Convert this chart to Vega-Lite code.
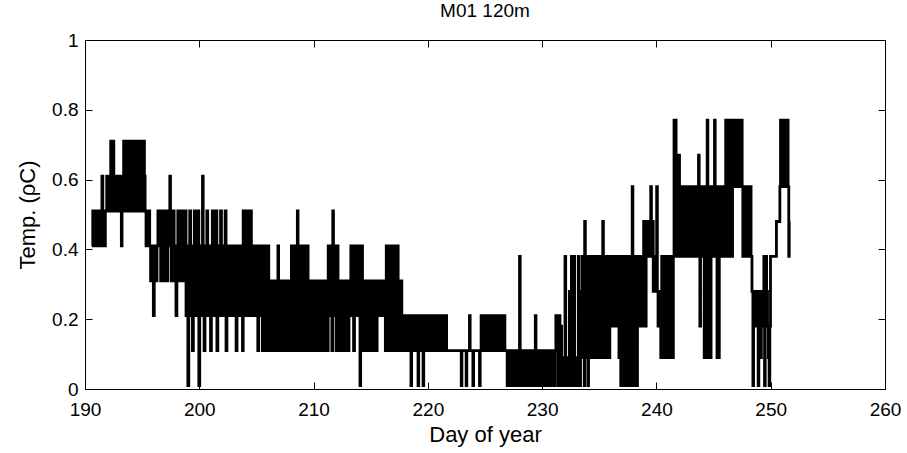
{
"$schema": "https://vega.github.io/schema/vega-lite/v6.json",
"autosize": {"type": "none"},
"padding": {"left": 85, "top": 40, "right": 22, "bottom": 64},
"width": 800,
"height": 349,
"background": "white",
"title": {"text": "M01 120m", "font": "Liberation Sans", "fontSize": 19, "fontWeight": "normal", "color": "black", "offset": 10, "anchor": "middle"},
"config": {
  "view": {"stroke": "black", "strokeWidth": 1},
  "axis": {"grid": false, "domainColor": "black", "tickColor": "black", "labelColor": "black", "titleColor": "black", "labelFont": "Liberation Sans", "titleFont": "Liberation Sans", "labelFontSize": 19, "titleFontSize": 22, "titleFontWeight": "normal", "tickSize": -7, "tickWidth": 1, "domainWidth": 1, "labelOverlap": false, "labelFlush": false}
},
"datasets": {"temp": [
{"d":190.60,"t":0.41},{"d":190.68,"t":0.51},{"d":190.76,"t":0.41},{"d":190.84,"t":0.51},{"d":190.92,"t":0.41},{"d":191.00,"t":0.51},{"d":191.08,"t":0.41},{"d":191.16,"t":0.51},{"d":191.24,"t":0.41},{"d":191.32,"t":0.51},{"d":191.40,"t":0.41},{"d":191.48,"t":0.61},{"d":191.56,"t":0.51},{"d":191.72,"t":0.41},{"d":191.78,"t":0.51},{"d":191.90,"t":0.61},
{"d":192.00,"t":0.51},{"d":192.10,"t":0.61},{"d":192.20,"t":0.51},{"d":192.25,"t":0.71},{"d":192.32,"t":0.61},{"d":192.40,"t":0.51},{"d":192.45,"t":0.71},{"d":192.52,"t":0.51},{"d":192.60,"t":0.61},{"d":192.70,"t":0.51},{"d":192.80,"t":0.61},{"d":192.90,"t":0.51},{"d":193.00,"t":0.61},{"d":193.10,"t":0.51},{"d":193.18,"t":0.41},{"d":193.24,"t":0.51},{"d":193.30,"t":0.61},{"d":193.38,"t":0.71},{"d":193.45,"t":0.51},{"d":193.52,"t":0.61},{"d":193.60,"t":0.51},{"d":193.68,"t":0.71},{"d":193.76,"t":0.61},{"d":193.84,"t":0.51},{"d":193.92,"t":0.71},
{"d":194.00,"t":0.61},{"d":194.08,"t":0.51},{"d":194.16,"t":0.61},{"d":194.24,"t":0.71},{"d":194.32,"t":0.51},{"d":194.40,"t":0.61},{"d":194.48,"t":0.71},{"d":194.56,"t":0.51},{"d":194.64,"t":0.61},{"d":194.72,"t":0.51},{"d":194.80,"t":0.71},{"d":194.88,"t":0.61},{"d":194.96,"t":0.71},{"d":195.04,"t":0.51},{"d":195.12,"t":0.71},{"d":195.20,"t":0.61},{"d":195.26,"t":0.51},{"d":195.34,"t":0.41},{"d":195.42,"t":0.51},{"d":195.50,"t":0.41},{"d":195.58,"t":0.51},{"d":195.66,"t":0.41},{"d":195.74,"t":0.31},{"d":195.82,"t":0.41},{"d":195.90,"t":0.31},{"d":195.98,"t":0.21},
{"d":196.06,"t":0.31},{"d":196.14,"t":0.41},{"d":196.22,"t":0.31},{"d":196.30,"t":0.41},{"d":196.38,"t":0.51},{"d":196.46,"t":0.41},{"d":196.54,"t":0.51},{"d":196.62,"t":0.31},{"d":196.70,"t":0.51},{"d":196.78,"t":0.41},{"d":196.86,"t":0.51},{"d":196.94,"t":0.31},{"d":197.02,"t":0.41},{"d":197.10,"t":0.51},{"d":197.18,"t":0.31},{"d":197.26,"t":0.41},{"d":197.34,"t":0.51},{"d":197.42,"t":0.61},{"d":197.48,"t":0.41},{"d":197.56,"t":0.31},{"d":197.64,"t":0.41},{"d":197.72,"t":0.51},{"d":197.80,"t":0.31},{"d":197.88,"t":0.41},{"d":197.96,"t":0.21},
{"d":198.04,"t":0.41},{"d":198.12,"t":0.51},{"d":198.20,"t":0.31},{"d":198.28,"t":0.41},{"d":198.36,"t":0.51},{"d":198.44,"t":0.31},{"d":198.52,"t":0.41},{"d":198.60,"t":0.51},{"d":198.68,"t":0.31},{"d":198.76,"t":0.51},{"d":198.84,"t":0.21},{"d":198.92,"t":0.41},{"d":199.00,"t":0.01},{"d":199.08,"t":0.31},{"d":199.16,"t":0.51},{"d":199.24,"t":0.21},{"d":199.32,"t":0.41},{"d":199.40,"t":0.11},{"d":199.48,"t":0.31},{"d":199.56,"t":0.51},{"d":199.64,"t":0.21},{"d":199.72,"t":0.41},{"d":199.80,"t":0.31},{"d":199.88,"t":0.51},{"d":199.96,"t":0.01},
{"d":200.04,"t":0.21},{"d":200.12,"t":0.41},{"d":200.20,"t":0.31},{"d":200.28,"t":0.61},{"d":200.34,"t":0.21},{"d":200.42,"t":0.11},{"d":200.50,"t":0.41},{"d":200.58,"t":0.21},{"d":200.66,"t":0.51},{"d":200.74,"t":0.31},{"d":200.82,"t":0.21},{"d":200.90,"t":0.41},{"d":200.98,"t":0.11},{"d":201.06,"t":0.31},{"d":201.14,"t":0.51},{"d":201.22,"t":0.21},{"d":201.30,"t":0.41},{"d":201.38,"t":0.31},{"d":201.46,"t":0.51},{"d":201.54,"t":0.11},{"d":201.62,"t":0.31},{"d":201.70,"t":0.41},{"d":201.78,"t":0.21},{"d":201.86,"t":0.51},{"d":201.94,"t":0.31},
{"d":202.02,"t":0.21},{"d":202.10,"t":0.41},{"d":202.18,"t":0.31},{"d":202.26,"t":0.51},{"d":202.34,"t":0.11},{"d":202.42,"t":0.21},{"d":202.50,"t":0.41},{"d":202.58,"t":0.31},{"d":202.66,"t":0.21},{"d":202.74,"t":0.41},{"d":202.82,"t":0.31},{"d":202.90,"t":0.21},{"d":202.98,"t":0.41},{"d":203.06,"t":0.31},{"d":203.14,"t":0.21},{"d":203.22,"t":0.11},{"d":203.30,"t":0.41},{"d":203.38,"t":0.21},{"d":203.46,"t":0.31},{"d":203.54,"t":0.41},{"d":203.62,"t":0.21},{"d":203.70,"t":0.41},{"d":203.78,"t":0.11},{"d":203.84,"t":0.51},{"d":203.92,"t":0.31},
{"d":204.00,"t":0.51},{"d":204.08,"t":0.21},{"d":204.16,"t":0.41},{"d":204.24,"t":0.31},{"d":204.32,"t":0.51},{"d":204.40,"t":0.21},{"d":204.48,"t":0.51},{"d":204.56,"t":0.31},{"d":204.64,"t":0.41},{"d":204.72,"t":0.21},{"d":204.80,"t":0.41},{"d":204.88,"t":0.31},{"d":204.96,"t":0.21},{"d":205.04,"t":0.41},{"d":205.12,"t":0.11},{"d":205.20,"t":0.41},{"d":205.28,"t":0.21},{"d":205.36,"t":0.31},{"d":205.44,"t":0.41},{"d":205.52,"t":0.11},{"d":205.60,"t":0.31},{"d":205.68,"t":0.21},{"d":205.76,"t":0.41},{"d":205.84,"t":0.11},{"d":205.92,"t":0.31},
{"d":206.00,"t":0.41},{"d":206.08,"t":0.11},{"d":206.16,"t":0.21},{"d":206.24,"t":0.31},{"d":206.32,"t":0.11},{"d":206.40,"t":0.31},{"d":206.48,"t":0.21},{"d":206.56,"t":0.11},{"d":206.64,"t":0.31},{"d":206.72,"t":0.11},{"d":206.80,"t":0.21},{"d":206.88,"t":0.41},{"d":206.94,"t":0.11},{"d":207.02,"t":0.31},{"d":207.10,"t":0.21},{"d":207.18,"t":0.11},{"d":207.26,"t":0.31},{"d":207.34,"t":0.11},{"d":207.42,"t":0.21},{"d":207.50,"t":0.31},{"d":207.58,"t":0.11},{"d":207.66,"t":0.21},{"d":207.74,"t":0.31},{"d":207.82,"t":0.11},{"d":207.90,"t":0.31},{"d":207.98,"t":0.21},
{"d":208.06,"t":0.41},{"d":208.12,"t":0.11},{"d":208.20,"t":0.31},{"d":208.28,"t":0.41},{"d":208.36,"t":0.11},{"d":208.44,"t":0.31},{"d":208.52,"t":0.21},{"d":208.58,"t":0.51},{"d":208.64,"t":0.11},{"d":208.72,"t":0.41},{"d":208.80,"t":0.21},{"d":208.88,"t":0.11},{"d":208.96,"t":0.41},{"d":209.04,"t":0.31},{"d":209.12,"t":0.11},{"d":209.20,"t":0.41},{"d":209.28,"t":0.21},{"d":209.36,"t":0.11},{"d":209.44,"t":0.41},{"d":209.52,"t":0.31},{"d":209.60,"t":0.11},{"d":209.68,"t":0.21},{"d":209.76,"t":0.31},{"d":209.84,"t":0.11},{"d":209.92,"t":0.31},
{"d":210.00,"t":0.21},{"d":210.08,"t":0.11},{"d":210.16,"t":0.31},{"d":210.24,"t":0.11},{"d":210.32,"t":0.21},{"d":210.40,"t":0.31},{"d":210.48,"t":0.11},{"d":210.56,"t":0.21},{"d":210.64,"t":0.31},{"d":210.72,"t":0.11},{"d":210.80,"t":0.31},{"d":210.88,"t":0.21},{"d":210.96,"t":0.11},{"d":211.04,"t":0.31},{"d":211.12,"t":0.21},{"d":211.20,"t":0.11},{"d":211.28,"t":0.41},{"d":211.36,"t":0.21},{"d":211.44,"t":0.31},{"d":211.52,"t":0.41},{"d":211.60,"t":0.11},{"d":211.68,"t":0.51},{"d":211.74,"t":0.21},{"d":211.82,"t":0.41},{"d":211.90,"t":0.31},{"d":211.98,"t":0.11},
{"d":212.06,"t":0.41},{"d":212.14,"t":0.21},{"d":212.22,"t":0.31},{"d":212.30,"t":0.11},{"d":212.38,"t":0.21},{"d":212.46,"t":0.31},{"d":212.54,"t":0.11},{"d":212.62,"t":0.31},{"d":212.70,"t":0.21},{"d":212.78,"t":0.11},{"d":212.86,"t":0.31},{"d":212.94,"t":0.21},{"d":213.02,"t":0.11},{"d":213.10,"t":0.31},{"d":213.18,"t":0.21},{"d":213.26,"t":0.41},{"d":213.34,"t":0.31},{"d":213.42,"t":0.41},{"d":213.50,"t":0.11},{"d":213.58,"t":0.31},{"d":213.66,"t":0.21},{"d":213.74,"t":0.41},{"d":213.82,"t":0.31},{"d":213.90,"t":0.41},{"d":213.98,"t":0.21},
{"d":214.06,"t":0.01},{"d":214.12,"t":0.31},{"d":214.20,"t":0.41},{"d":214.28,"t":0.11},{"d":214.36,"t":0.31},{"d":214.44,"t":0.21},{"d":214.52,"t":0.11},{"d":214.60,"t":0.31},{"d":214.68,"t":0.21},{"d":214.76,"t":0.11},{"d":214.84,"t":0.31},{"d":214.92,"t":0.21},{"d":215.00,"t":0.11},{"d":215.08,"t":0.31},{"d":215.16,"t":0.21},{"d":215.24,"t":0.11},{"d":215.32,"t":0.31},{"d":215.40,"t":0.21},{"d":215.48,"t":0.11},{"d":215.56,"t":0.31},{"d":215.64,"t":0.21},{"d":215.72,"t":0.31},{"d":215.80,"t":0.21},{"d":215.88,"t":0.31},{"d":215.96,"t":0.21},
{"d":216.04,"t":0.31},{"d":216.12,"t":0.21},{"d":216.20,"t":0.31},{"d":216.28,"t":0.11},{"d":216.36,"t":0.41},{"d":216.44,"t":0.21},{"d":216.52,"t":0.31},{"d":216.60,"t":0.11},{"d":216.68,"t":0.41},{"d":216.76,"t":0.21},{"d":216.84,"t":0.31},{"d":216.92,"t":0.11},{"d":217.00,"t":0.41},{"d":217.08,"t":0.21},{"d":217.16,"t":0.31},{"d":217.24,"t":0.11},{"d":217.32,"t":0.41},{"d":217.40,"t":0.21},{"d":217.48,"t":0.31},{"d":217.56,"t":0.11},{"d":217.64,"t":0.31},{"d":217.72,"t":0.21},{"d":217.80,"t":0.11},{"d":217.88,"t":0.21},{"d":217.96,"t":0.11},
{"d":218.04,"t":0.21},{"d":218.12,"t":0.11},{"d":218.20,"t":0.21},{"d":218.28,"t":0.11},{"d":218.36,"t":0.21},{"d":218.44,"t":0.11},{"d":218.52,"t":0.01},{"d":218.58,"t":0.21},{"d":218.66,"t":0.11},{"d":218.74,"t":0.21},{"d":218.82,"t":0.11},{"d":218.90,"t":0.21},{"d":218.98,"t":0.11},{"d":219.06,"t":0.21},{"d":219.14,"t":0.01},{"d":219.20,"t":0.11},{"d":219.28,"t":0.21},{"d":219.36,"t":0.11},{"d":219.44,"t":0.21},{"d":219.52,"t":0.11},{"d":219.58,"t":0.01},{"d":219.64,"t":0.21},{"d":219.72,"t":0.11},{"d":219.80,"t":0.21},{"d":219.88,"t":0.11},{"d":219.96,"t":0.21},
{"d":220.04,"t":0.11},{"d":220.12,"t":0.21},{"d":220.20,"t":0.11},{"d":220.28,"t":0.21},{"d":220.36,"t":0.11},{"d":220.44,"t":0.21},{"d":220.52,"t":0.11},{"d":220.60,"t":0.21},{"d":220.68,"t":0.11},{"d":220.76,"t":0.21},{"d":220.84,"t":0.11},{"d":220.92,"t":0.21},{"d":221.00,"t":0.11},{"d":221.08,"t":0.21},{"d":221.16,"t":0.11},{"d":221.24,"t":0.21},{"d":221.32,"t":0.11},{"d":221.40,"t":0.21},{"d":221.48,"t":0.11},{"d":221.56,"t":0.21},{"d":221.64,"t":0.11},
{"d":222.92,"t":0.01},{"d":222.98,"t":0.11},{"d":223.35,"t":0.01},{"d":223.41,"t":0.11},{"d":223.64,"t":0.21},{"d":223.70,"t":0.11},{"d":223.94,"t":0.01},{"d":224.00,"t":0.11},{"d":224.52,"t":0.01},{"d":224.58,"t":0.11},{"d":224.66,"t":0.21},{"d":224.74,"t":0.11},{"d":224.82,"t":0.21},{"d":224.90,"t":0.11},{"d":224.96,"t":0.21},{"d":225.02,"t":0.11},{"d":225.24,"t":0.21},{"d":225.32,"t":0.11},{"d":225.40,"t":0.21},{"d":225.48,"t":0.11},{"d":225.56,"t":0.21},{"d":225.64,"t":0.11},{"d":225.72,"t":0.21},{"d":225.80,"t":0.11},{"d":225.88,"t":0.21},{"d":225.96,"t":0.11},
{"d":226.04,"t":0.21},{"d":226.12,"t":0.11},{"d":226.20,"t":0.21},{"d":226.28,"t":0.11},{"d":226.36,"t":0.21},{"d":226.44,"t":0.11},{"d":226.52,"t":0.21},{"d":226.60,"t":0.11},{"d":226.68,"t":0.21},{"d":226.74,"t":0.11},{"d":226.94,"t":0.01},{"d":227.02,"t":0.11},{"d":227.10,"t":0.01},{"d":227.18,"t":0.11},{"d":227.26,"t":0.01},{"d":227.34,"t":0.11},{"d":227.42,"t":0.01},{"d":227.50,"t":0.11},{"d":227.58,"t":0.01},{"d":227.66,"t":0.11},{"d":227.74,"t":0.01},{"d":227.82,"t":0.11},{"d":227.90,"t":0.01},{"d":227.98,"t":0.11},
{"d":228.02,"t":0.38},{"d":228.08,"t":0.11},{"d":228.14,"t":0.01},{"d":228.22,"t":0.11},{"d":228.30,"t":0.01},{"d":228.38,"t":0.11},{"d":228.46,"t":0.01},{"d":228.54,"t":0.11},{"d":228.62,"t":0.01},{"d":228.70,"t":0.11},{"d":228.78,"t":0.01},{"d":228.86,"t":0.11},{"d":228.94,"t":0.01},{"d":229.02,"t":0.11},{"d":229.10,"t":0.01},{"d":229.18,"t":0.11},{"d":229.26,"t":0.01},{"d":229.34,"t":0.11},{"d":229.40,"t":0.21},{"d":229.46,"t":0.11},{"d":229.54,"t":0.01},{"d":229.62,"t":0.11},{"d":229.70,"t":0.01},{"d":229.78,"t":0.11},{"d":229.86,"t":0.01},{"d":229.94,"t":0.11},
{"d":230.10,"t":0.01},{"d":230.18,"t":0.11},{"d":230.30,"t":0.01},{"d":230.38,"t":0.11},{"d":230.46,"t":0.01},{"d":230.54,"t":0.11},{"d":230.70,"t":0.01},{"d":230.78,"t":0.11},{"d":230.86,"t":0.01},{"d":230.94,"t":0.11},{"d":231.02,"t":0.01},{"d":231.10,"t":0.11},{"d":231.20,"t":0.21},{"d":231.28,"t":0.11},{"d":231.36,"t":0.01},{"d":231.44,"t":0.11},{"d":231.50,"t":0.21},{"d":231.56,"t":0.01},{"d":231.64,"t":0.18},{"d":231.70,"t":0.09},{"d":231.78,"t":0.01},{"d":231.86,"t":0.09},{"d":231.94,"t":0.01},
{"d":232.00,"t":0.38},{"d":232.06,"t":0.09},{"d":232.14,"t":0.01},{"d":232.22,"t":0.09},{"d":232.30,"t":0.01},{"d":232.38,"t":0.28},{"d":232.44,"t":0.09},{"d":232.50,"t":0.01},{"d":232.56,"t":0.38},{"d":232.62,"t":0.09},{"d":232.70,"t":0.01},{"d":232.78,"t":0.38},{"d":232.84,"t":0.01},{"d":232.92,"t":0.09},{"d":233.00,"t":0.01},{"d":233.08,"t":0.09},{"d":233.16,"t":0.38},{"d":233.24,"t":0.09},{"d":233.30,"t":0.01},{"d":233.36,"t":0.28},{"d":233.44,"t":0.18},{"d":233.52,"t":0.38},{"d":233.60,"t":0.09},{"d":233.68,"t":0.01},{"d":233.72,"t":0.48},{"d":233.78,"t":0.18},{"d":233.86,"t":0.38},{"d":233.94,"t":0.09},
{"d":234.00,"t":0.01},{"d":234.06,"t":0.28},{"d":234.14,"t":0.38},{"d":234.22,"t":0.09},{"d":234.30,"t":0.28},{"d":234.38,"t":0.18},{"d":234.46,"t":0.38},{"d":234.54,"t":0.09},{"d":234.62,"t":0.28},{"d":234.70,"t":0.38},{"d":234.78,"t":0.18},{"d":234.86,"t":0.09},{"d":234.94,"t":0.38},{"d":235.02,"t":0.28},{"d":235.10,"t":0.09},{"d":235.18,"t":0.38},{"d":235.24,"t":0.18},{"d":235.30,"t":0.48},{"d":235.36,"t":0.09},{"d":235.44,"t":0.38},{"d":235.52,"t":0.28},{"d":235.60,"t":0.09},{"d":235.68,"t":0.38},{"d":235.76,"t":0.18},{"d":235.84,"t":0.09},{"d":235.92,"t":0.38},
{"d":236.00,"t":0.28},{"d":236.08,"t":0.18},{"d":236.16,"t":0.38},{"d":236.24,"t":0.28},{"d":236.32,"t":0.18},{"d":236.40,"t":0.38},{"d":236.48,"t":0.28},{"d":236.56,"t":0.18},{"d":236.64,"t":0.38},{"d":236.72,"t":0.09},{"d":236.80,"t":0.28},{"d":236.88,"t":0.01},{"d":236.96,"t":0.38},{"d":237.04,"t":0.09},{"d":237.12,"t":0.01},{"d":237.20,"t":0.38},{"d":237.28,"t":0.18},{"d":237.36,"t":0.01},{"d":237.44,"t":0.38},{"d":237.52,"t":0.09},{"d":237.60,"t":0.01},{"d":237.68,"t":0.28},{"d":237.76,"t":0.38},{"d":237.84,"t":0.01},{"d":237.88,"t":0.58},{"d":237.94,"t":0.18},
{"d":238.02,"t":0.01},{"d":238.10,"t":0.38},{"d":238.18,"t":0.09},{"d":238.26,"t":0.01},{"d":238.34,"t":0.38},{"d":238.42,"t":0.18},{"d":238.50,"t":0.38},{"d":238.58,"t":0.28},{"d":238.66,"t":0.18},{"d":238.74,"t":0.38},{"d":238.82,"t":0.18},{"d":238.88,"t":0.48},{"d":238.94,"t":0.28},{"d":239.02,"t":0.18},{"d":239.10,"t":0.38},{"d":239.18,"t":0.48},{"d":239.26,"t":0.38},{"d":239.34,"t":0.48},{"d":239.42,"t":0.38},{"d":239.50,"t":0.58},{"d":239.56,"t":0.38},{"d":239.64,"t":0.48},{"d":239.72,"t":0.28},{"d":239.80,"t":0.38},{"d":239.88,"t":0.28},{"d":239.96,"t":0.38},
{"d":240.02,"t":0.58},{"d":240.08,"t":0.28},{"d":240.14,"t":0.18},{"d":240.22,"t":0.28},{"d":240.30,"t":0.18},{"d":240.38,"t":0.09},{"d":240.46,"t":0.38},{"d":240.54,"t":0.18},{"d":240.62,"t":0.09},{"d":240.70,"t":0.38},{"d":240.78,"t":0.09},{"d":240.86,"t":0.28},{"d":240.94,"t":0.09},{"d":241.02,"t":0.38},{"d":241.10,"t":0.09},{"d":241.18,"t":0.38},{"d":241.26,"t":0.09},{"d":241.34,"t":0.38},{"d":241.42,"t":0.09},{"d":241.48,"t":0.38},{"d":241.54,"t":0.77},{"d":241.60,"t":0.58},{"d":241.66,"t":0.77},{"d":241.72,"t":0.38},{"d":241.80,"t":0.58},{"d":241.88,"t":0.38},{"d":241.96,"t":0.67},
{"d":242.02,"t":0.38},{"d":242.10,"t":0.58},{"d":242.18,"t":0.48},{"d":242.26,"t":0.38},{"d":242.34,"t":0.58},{"d":242.42,"t":0.38},{"d":242.50,"t":0.58},{"d":242.58,"t":0.48},{"d":242.66,"t":0.38},{"d":242.74,"t":0.58},{"d":242.82,"t":0.38},{"d":242.90,"t":0.58},{"d":242.98,"t":0.48},{"d":243.06,"t":0.38},{"d":243.14,"t":0.58},{"d":243.22,"t":0.38},{"d":243.30,"t":0.58},{"d":243.38,"t":0.48},{"d":243.46,"t":0.38},{"d":243.54,"t":0.58},{"d":243.62,"t":0.38},{"d":243.68,"t":0.67},{"d":243.74,"t":0.38},{"d":243.80,"t":0.18},{"d":243.86,"t":0.58},{"d":243.94,"t":0.38},
{"d":244.02,"t":0.58},{"d":244.10,"t":0.38},{"d":244.18,"t":0.09},{"d":244.24,"t":0.58},{"d":244.32,"t":0.09},{"d":244.38,"t":0.38},{"d":244.44,"t":0.77},{"d":244.50,"t":0.38},{"d":244.56,"t":0.09},{"d":244.62,"t":0.58},{"d":244.70,"t":0.09},{"d":244.78,"t":0.38},{"d":244.86,"t":0.58},{"d":244.94,"t":0.38},{"d":245.02,"t":0.58},{"d":245.08,"t":0.77},{"d":245.14,"t":0.38},{"d":245.22,"t":0.58},{"d":245.30,"t":0.09},{"d":245.36,"t":0.38},{"d":245.44,"t":0.09},{"d":245.50,"t":0.58},{"d":245.58,"t":0.38},{"d":245.66,"t":0.58},{"d":245.74,"t":0.38},{"d":245.82,"t":0.58},{"d":245.90,"t":0.38},{"d":245.98,"t":0.58},
{"d":246.06,"t":0.77},{"d":246.12,"t":0.38},{"d":246.18,"t":0.77},{"d":246.24,"t":0.58},{"d":246.30,"t":0.77},{"d":246.36,"t":0.38},{"d":246.42,"t":0.77},{"d":246.48,"t":0.58},{"d":246.54,"t":0.77},{"d":246.60,"t":0.38},{"d":246.66,"t":0.58},{"d":246.72,"t":0.77},{"d":246.78,"t":0.58},{"d":246.84,"t":0.77},{"d":246.90,"t":0.58},{"d":246.96,"t":0.77},{"d":247.02,"t":0.58},{"d":247.08,"t":0.77},{"d":247.14,"t":0.58},{"d":247.20,"t":0.77},{"d":247.26,"t":0.58},{"d":247.32,"t":0.77},{"d":247.38,"t":0.58},{"d":247.44,"t":0.77},{"d":247.50,"t":0.58},
{"d":247.56,"t":0.38},{"d":247.64,"t":0.58},{"d":247.72,"t":0.38},{"d":247.80,"t":0.48},{"d":247.88,"t":0.58},{"d":247.96,"t":0.38},{"d":248.04,"t":0.58},{"d":248.12,"t":0.38},{"d":248.20,"t":0.58},{"d":248.28,"t":0.38},{"d":248.36,"t":0.28},{"d":248.44,"t":0.01},{"d":248.50,"t":0.28},{"d":248.58,"t":0.18},{"d":248.66,"t":0.28},{"d":248.74,"t":0.18},{"d":248.82,"t":0.28},{"d":248.90,"t":0.01},{"d":248.96,"t":0.18},
{"d":249.04,"t":0.28},{"d":249.12,"t":0.09},{"d":249.18,"t":0.18},{"d":249.26,"t":0.28},{"d":249.34,"t":0.18},{"d":249.40,"t":0.38},{"d":249.46,"t":0.01},{"d":249.52,"t":0.18},{"d":249.58,"t":0.38},{"d":249.64,"t":0.28},{"d":249.72,"t":0.18},{"d":249.80,"t":0.09},{"d":249.86,"t":0.01},{"d":249.92,"t":0.18},{"d":249.98,"t":0.38},
{"d":250.50,"t":0.48},{"d":250.80,"t":0.58},{"d":250.86,"t":0.77},{"d":250.92,"t":0.58},{"d":250.98,"t":0.77},{"d":251.04,"t":0.58},{"d":251.10,"t":0.77},{"d":251.16,"t":0.58},{"d":251.22,"t":0.77},{"d":251.28,"t":0.58},{"d":251.34,"t":0.77},{"d":251.40,"t":0.58},{"d":251.46,"t":0.77},{"d":251.52,"t":0.58},{"d":251.58,"t":0.38},{"d":251.62,"t":0.48},{"d":251.68,"t":0.48}
]},
"data": {"name": "temp"},
"layer": [
  {
    "mark": {"type": "line", "interpolate": "step-after", "color": "black", "strokeWidth": 2.8},
    "encoding": {
      "x": {"field": "d", "type": "quantitative", "sort": null, "scale": {"domain": [190, 260], "nice": false, "zero": false},
            "axis": {"orient": "bottom", "values": [190, 200, 210, 220, 230, 240, 250, 260], "title": "Day of year", "labelPadding": 18, "titlePadding": 5}},
      "y": {"field": "t", "type": "quantitative", "scale": {"domain": [0, 1], "nice": false, "zero": false},
            "axis": {"orient": "left", "values": [0, 0.2, 0.4, 0.6, 0.8, 1], "format": "~g", "title": "Temp. (ρC)", "labelPadding": 14, "titlePadding": 12}}
    }
  },
  {
    "mark": {"type": "line", "opacity": 0},
    "encoding": {
      "x": {"field": "d", "type": "quantitative", "axis": {"orient": "top", "values": [190, 200, 210, 220, 230, 240, 250, 260], "labels": false, "title": null}},
      "y": {"field": "t", "type": "quantitative", "axis": {"orient": "right", "values": [0, 0.2, 0.4, 0.6, 0.8, 1], "labels": false, "title": null}}
    }
  }
],
"resolve": {"axis": {"x": "independent", "y": "independent"}}
}
